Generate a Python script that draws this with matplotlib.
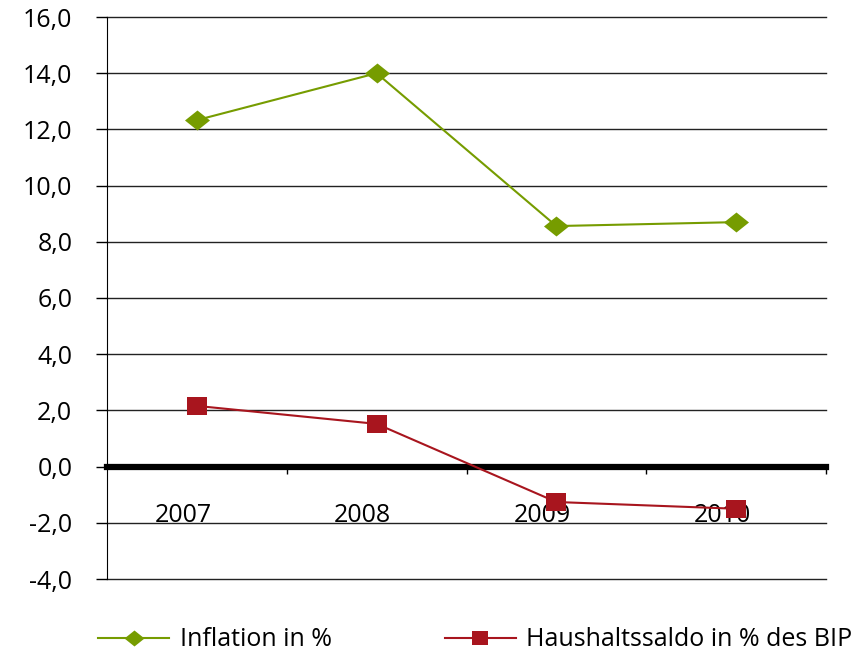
import matplotlib
matplotlib.use("Agg")
import matplotlib.pyplot as plt
import matplotlib.transforms as mtransforms
from matplotlib.path import Path
from matplotlib.ticker import FuncFormatter, FixedLocator

years = ["2007", "2008", "2009", "2010"]
inflation = [12.33, 14.0, 8.56, 8.70]
haushalt = [2.16, 1.52, -1.26, -1.50]
yticks = [-4, -2, 0, 2, 4, 6, 8, 10, 12, 14, 16]

plt.rcParams['font.family'] = ['Open Sans', 'DejaVu Sans']

fig = plt.figure(figsize=(8.61, 6.54), dpi=100)
ax = fig.add_axes([107/861, 1-579/654, 719/861, 562/654])

green = "#769C00"
red = "#A8151E"

diamond = Path([(-1, 0), (0, 0.8), (1, 0), (0, -0.8), (-1, 0)],
               [Path.MOVETO, Path.LINETO, Path.LINETO, Path.LINETO, Path.CLOSEPOLY])
rect = Path([(-1, -0.86), (1, -0.86), (1, 0.86), (-1, 0.86), (-1, -0.86)],
            [Path.MOVETO, Path.LINETO, Path.LINETO, Path.LINETO, Path.CLOSEPOLY])

x = list(range(len(years)))
ax.plot(x, inflation, color=green, lw=1.5, marker=diamond, ms=18, mew=0,
        label="Inflation in %", zorder=3)
ax.plot(x, haushalt, color=red, lw=1.5, marker=rect, ms=15, mew=0,
        label="Haushaltssaldo in % des BIP", zorder=3)

ax.set_xlim(-0.5, 3.5)
ax.set_ylim(-4, 16)
ax.set_yticks(yticks)
ax.yaxis.set_major_formatter(FuncFormatter(lambda v, p: f"{v:.1f}".replace(".", ",")))
ax.yaxis.grid(True, color="#222222", lw=1.0)
ax.set_axisbelow(True)
for gl in ax.get_ygridlines():
    gl.set_clip_on(False)

for s in ["top", "right"]:
    ax.spines[s].set_visible(False)
ax.spines["left"].set_color("black")
ax.spines["bottom"].set_position(("data", 0))
ax.spines["bottom"].set_linewidth(4.5)
ax.spines["bottom"].set_color("black")
ax.spines["bottom"].set_zorder(2)

ax.set_xticks(x)
ax.set_xticklabels(years)
ax.xaxis.set_minor_locator(FixedLocator([0.5, 1.5, 2.5, 3.5]))
ax.tick_params(axis="x", which="major", length=0, pad=26, labelsize=18)
ax.tick_params(axis="x", which="minor", length=5, width=1, direction="out")
ax.tick_params(axis="y", length=8, width=1, labelsize=18, pad=17, colors="black")

offset = mtransforms.ScaledTranslation(-14/100, 0, fig.dpi_scale_trans)
for lbl in ax.get_xticklabels():
    lbl.set_transform(lbl.get_transform() + offset)

fig.legend(loc="center left", bbox_to_anchor=(98/861, 14/654), ncol=2, frameon=False,
           fontsize=18, handlelength=2.84, columnspacing=4.5, handletextpad=0.44,
           borderaxespad=0, borderpad=0, markerscale=0.8)

fig.savefig("out.png", dpi=100)
